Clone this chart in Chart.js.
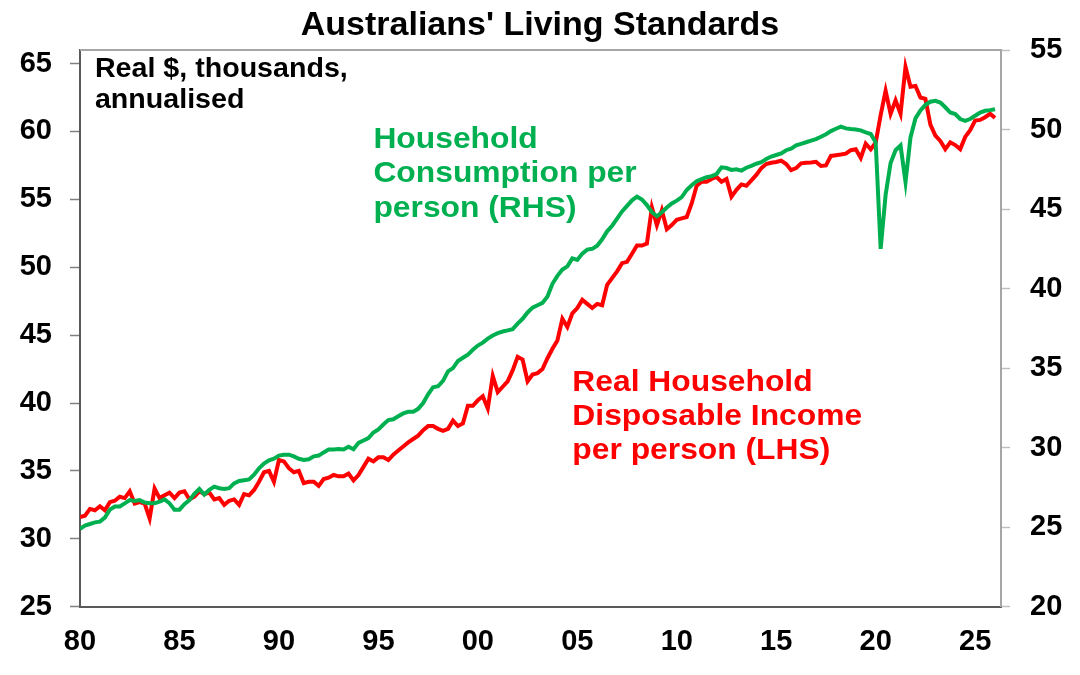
<!DOCTYPE html>
<html>
<head>
<meta charset="utf-8">
<script src="https://cdn.jsdelivr.net/npm/chart.js@4.4.1/dist/chart.umd.min.js"></script>
<style>
  html, body { margin: 0; padding: 0; background: #ffffff; }
  #wrap { width: 1080px; height: 675px; }
</style>
</head>
<body>
<div id="wrap"><canvas id="c" width="1080" height="675"></canvas></div>
<script>
// ---- Data (quarterly, starting 1980) ----
const startYear = 1980;
const xTickYears = [1980, 1985, 1990, 1995, 2000, 2005, 2010, 2015, 2020, 2025];
const xTickLabels = ['80', '85', '90', '95', '00', '05', '10', '15', '20', '25'];
const leftTicks = [25, 30, 35, 40, 45, 50, 55, 60, 65];
const rightTicks = [20, 25, 30, 35, 40, 45, 50, 55];

// Real Household Disposable Income per person (LHS), $k
const incomeLHS = [
  31.6, 31.7, 32.2, 32.1, 32.4, 32.1, 32.7, 32.8, 33.1, 33.0,
  33.5, 32.6, 32.7, 32.6, 31.5, 33.7, 33.0, 33.2, 33.4, 33.0,
  33.4, 33.5, 32.9, 33.1, 33.5, 33.3, 33.4, 32.9, 33.0, 32.5,
  32.8, 32.9, 32.5, 33.3, 33.2, 33.6, 34.2, 34.9, 35.0, 34.2,
  35.8, 35.7, 35.2, 34.9, 35.0, 34.1, 34.2, 34.2, 33.9, 34.4,
  34.5, 34.7, 34.6, 34.6, 34.8, 34.3, 34.7, 35.3, 35.9, 35.7,
  36.0, 36.0, 35.8, 36.2, 36.5, 36.8, 37.1, 37.35, 37.6, 38.0,
  38.3, 38.3, 38.1, 37.95, 38.1, 38.7, 38.3, 38.5, 39.8, 39.8,
  40.2, 40.5, 39.6, 42.0, 40.8, 41.2, 41.6, 42.4, 43.4, 43.2,
  41.6, 42.1, 42.2, 42.5, 43.3, 44.0, 44.6, 46.2, 45.6, 46.6,
  47.0, 47.6, 47.3, 47.0, 47.3, 47.2, 48.7, 49.2, 49.7, 50.3,
  50.4, 51.0, 51.6, 51.6, 51.75, 54.4, 53.1, 54.2, 52.8, 53.1,
  53.5, 53.6, 53.7, 54.7, 56.0, 56.3, 56.3, 56.5, 56.65, 56.3,
  56.5, 55.2, 55.7, 56.1, 56.0, 56.4, 56.8, 57.3, 57.6, 57.7,
  57.75, 57.85, 57.6, 57.15, 57.3, 57.65, 57.7, 57.72, 57.76, 57.46,
  57.5, 58.2, 58.25, 58.3, 58.37, 58.62, 58.69, 58.05, 59.11, 58.69,
  59.18, 61.2, 63.0, 61.3, 62.3, 61.3, 64.75, 63.3, 63.35, 62.5,
  62.4, 60.5, 59.7, 59.3, 58.7, 59.2, 59.0, 58.7, 59.6, 60.1,
  60.8, 60.85, 61.05, 61.3, 61.0
];

// Household Consumption per person (RHS), $k
const consumptionRHS = [
  24.9, 25.1, 25.2, 25.3, 25.35, 25.6, 26.1, 26.3, 26.3, 26.5,
  26.7, 26.65, 26.7, 26.55, 26.5, 26.5, 26.6, 26.75, 26.5, 26.1,
  26.1, 26.45, 26.7, 27.1, 27.4, 27.05, 27.35, 27.55, 27.45, 27.4,
  27.45, 27.75, 27.9, 27.95, 28.0, 28.3, 28.7, 29.0, 29.2, 29.3,
  29.5, 29.55, 29.56, 29.45, 29.3, 29.22, 29.27, 29.45, 29.5, 29.7,
  29.88, 29.89, 29.92, 29.88, 30.06, 29.9, 30.3, 30.45, 30.6, 30.95,
  31.15, 31.45, 31.73, 31.78, 31.97, 32.15, 32.25, 32.25, 32.44, 32.8,
  33.35, 33.8, 33.86, 34.2, 34.8, 35.0, 35.45, 35.65, 35.85, 36.15,
  36.42, 36.6, 36.85, 37.05, 37.2, 37.3, 37.37, 37.45, 37.8, 38.1,
  38.5, 38.8, 38.95, 39.1, 39.5, 40.3, 40.8, 41.2, 41.4, 41.9,
  41.8, 42.2, 42.45, 42.5, 42.7, 43.1, 43.6, 43.95, 44.4, 44.85,
  45.2, 45.55, 45.78, 45.6, 45.25, 44.8, 44.55, 44.8, 45.1, 45.35,
  45.53, 45.75, 46.2, 46.5, 46.75, 46.88, 47.0, 47.07, 47.2, 47.62,
  47.58, 47.46, 47.5, 47.42, 47.6, 47.72, 47.85, 47.95, 48.15, 48.3,
  48.4, 48.5, 48.7, 48.8, 49.0, 49.1, 49.2, 49.3, 49.4, 49.55,
  49.7, 49.9, 50.05, 50.18, 50.07, 50.03, 50.0, 49.95, 49.82, 49.72,
  49.2, 42.5, 45.9, 47.9, 48.7, 49.0, 46.7, 49.5, 50.7, 51.2,
  51.55, 51.75, 51.81, 51.7, 51.4, 51.07, 50.97, 50.66, 50.55, 50.66,
  50.87, 51.07, 51.18, 51.22, 51.28
];

// quarter positions (decimal years) for each observation
const quarters = incomeLHS.map((_, i) => startYear + i / 4);

const RED = '#FF0000';
const GREEN = '#00B050';
const FONT = "'Liberation Sans', Arial, Helvetica, sans-serif";

// Text annotations anchored in data coordinates (x = year, y = LHS value)
const notes = [
  { lines: ['Real $, thousands,', 'annualised'], year: 1980.75, lhs: 64.0, color: '#000000', size: 27, lh: 31 },
  { lines: ['Household', 'Consumption per', 'person (RHS)'], year: 1994.75, lhs: 58.8, color: GREEN, size: 30, lh: 34.5 },
  { lines: ['Real Household', 'Disposable Income', 'per person (LHS)'], year: 2004.75, lhs: 40.9, color: RED, size: 30, lh: 34.3 }
];
const noteStretch = 1.06;

const decorPlugin = {
  id: 'decor',
  afterDraw(chart) {
    const { ctx, chartArea, scales } = chart;
    ctx.save();
    // top frame line
    ctx.strokeStyle = '#A6A6A6';
    ctx.lineWidth = 2;
    ctx.beginPath();
    ctx.moveTo(chartArea.left, chartArea.top);
    ctx.lineTo(chartArea.right, chartArea.top);
    ctx.stroke();
    // annotations
    ctx.textAlign = 'left';
    ctx.textBaseline = 'alphabetic';
    notes.forEach(n => {
      const x = scales.x.getPixelForValue(n.year);
      const y = scales.yL.getPixelForValue(n.lhs);
      ctx.fillStyle = n.color;
      ctx.font = 'bold ' + n.size + 'px ' + FONT;
      n.lines.forEach((t, i) => {
        ctx.save();
        ctx.translate(x, y + i * n.lh);
        ctx.scale(noteStretch, 1);
        ctx.fillText(t, 0, 0);
        ctx.restore();
      });
    });
    ctx.restore();
  }
};

new Chart(document.getElementById('c'), {
  type: 'line',
  data: {
    labels: quarters,
    datasets: [
      {
        label: 'Household Consumption per person (RHS)',
        data: consumptionRHS,
        yAxisID: 'yR',
        borderColor: GREEN,
        borderWidth: 4,
        pointRadius: 0,
        tension: 0,
        fill: false
      },
      {
        label: 'Real Household Disposable Income per person (LHS)',
        data: incomeLHS,
        yAxisID: 'yL',
        borderColor: RED,
        borderWidth: 4,
        pointRadius: 0,
        tension: 0,
        fill: false
      }
    ]
  },
  options: {
    responsive: false,
    animation: false,
    devicePixelRatio: 1,
    layout: { padding: 0 },
    plugins: {
      legend: { display: false },
      tooltip: { enabled: false },
      title: {
        display: true,
        text: "Australians' Living Standards",
        color: '#000000',
        font: { family: FONT, size: 34, weight: 'bold', lineHeight: 1.2 },
        padding: { top: 5, bottom: 4.2 }
      }
    },
    scales: {
      x: {
        type: 'linear',
        min: 1980,
        max: 2026.3,
        afterBuildTicks: s => { s.ticks = xTickYears.map(v => ({ value: v })); },
        afterFit: s => { s.height = 68.3; },
        ticks: {
          autoSkip: false,
          maxRotation: 0,
          padding: 18,
          color: '#000000',
          font: { family: FONT, size: 29, weight: 'bold' },
          callback: (v) => xTickLabels[xTickYears.indexOf(v)]
        },
        grid: { display: false, drawTicks: false },
        border: { display: true, color: '#595959', width: 2 }
      },
      yL: {
        type: 'linear',
        position: 'left',
        min: 25,
        max: 66,
        afterBuildTicks: s => { s.ticks = leftTicks.map(v => ({ value: v })); },
        afterFit: s => { s.width = 80; },
        ticks: {
          padding: 18,
          color: '#000000',
          font: { family: FONT, size: 29, weight: 'bold' }
        },
        grid: { drawOnChartArea: false, drawTicks: true, tickLength: 10, tickColor: '#808080', tickWidth: 1.5 },
        border: { display: true, color: '#595959', width: 2 }
      },
      yR: {
        type: 'linear',
        position: 'right',
        min: 20,
        max: 55,
        afterBuildTicks: s => { s.ticks = rightTicks.map(v => ({ value: v })); },
        afterFit: s => { s.width = 79; },
        ticks: {
          padding: 20,
          color: '#000000',
          font: { family: FONT, size: 29, weight: 'bold' }
        },
        grid: { drawOnChartArea: false, drawTicks: true, tickLength: 9, tickColor: '#C0C0C0', tickWidth: 1.5 },
        border: { display: true, color: '#A6A6A6', width: 2 }
      }
    }
  },
  plugins: [decorPlugin]
});
</script>
</body>
</html>
